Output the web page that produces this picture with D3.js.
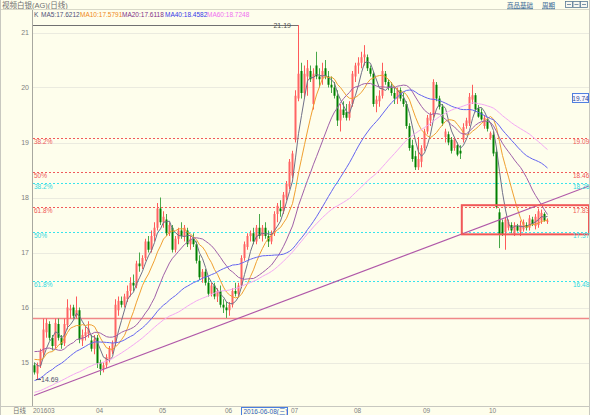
<!DOCTYPE html>
<html><head><meta charset="utf-8">
<script src="https://cdn.jsdelivr.net/npm/d3@7/dist/d3.min.js"></script>
<style>
html,body{margin:0;padding:0;background:#fefeec;}
svg{display:block;}
text{font-family:"Liberation Sans",Arial,"Noto Sans CJK SC",sans-serif;}
</style></head>
<body>
<script>
// ---------- DATA ----------
const title = "视频白银(AG)(日线)";
const monthLabels = ["201603","04","05","06","07","08","09","10"];
const monthStartIdx = [0,21,42,64,86,107,130,152];
const yTicks = [15,16,17,18,19,20,21];

// closes before the displayed window (Dec 2015 - Feb 2016), used only for moving averages
const priorCloses = [14.15,14.05,14.25,14.10,13.85,13.95,13.80,14.10,13.70,14.05,14.25,14.25,14.30,14.35,14.15,13.85,13.75,13.85,
 13.95,13.95,14.15,14.15,13.95,13.90,13.90,14.05,13.85,14.10,14.05,14.00,14.15,14.10,14.15,14.35,14.35,14.30,14.30,14.25,
 14.30,14.55,14.90,15.05,14.95,15.35,15.40,15.65,15.80,15.80,15.35,15.15,15.00,15.25,15.30,14.90,15.15,15.20,15.25,14.75,14.95];

const opens = [14.95,14.80,14.95,15.18,15.55,15.70,15.45,15.30,15.70,15.45,15.35,15.68,15.95,16.00,15.85,15.95,15.40,15.48,15.52,15.40,15.25,
15.45,15.00,14.88,14.95,15.05,15.20,15.35,15.95,16.12,16.05,16.15,16.30,16.45,16.40,16.80,16.75,16.90,17.20,17.05,17.30,17.45,
17.80,17.55,17.60,17.35,17.45,17.05,17.25,17.40,17.30,17.40,17.15,17.25,17.15,16.85,16.55,16.65,16.45,16.25,16.40,16.20,16.30,16.05,
16.00,15.95,16.05,16.30,16.25,16.40,16.90,17.10,17.30,17.35,17.20,17.45,17.30,17.45,17.30,17.20,17.35,17.70,17.80,17.75,18.00,18.20,
18.40,19.05,19.80,20.30,19.90,20.20,20.30,19.70,20.40,20.20,20.15,20.35,20.20,20.05,20.00,19.85,19.40,19.60,19.55,19.45,19.70,20.20,
20.40,20.45,20.55,20.55,20.35,20.25,19.70,19.75,19.85,20.25,20.10,20.00,19.90,19.80,19.95,19.80,19.70,19.30,18.95,18.75,18.55,18.65,
18.90,19.20,19.40,19.50,20.05,19.80,19.65,19.10,19.15,19.05,18.90,18.95,18.85,19.05,19.30,19.35,19.78,19.86,19.62,19.55,19.30,19.40,
19.08,19.14,18.83,17.73,17.55,17.37,17.45,17.50,17.34,17.48,17.38,17.42,17.50,17.45,17.60,17.48,17.50,17.58,17.70,17.56];
const highs = [15.00,15.00,15.25,15.80,15.80,15.75,15.50,15.80,15.80,15.50,15.80,16.15,16.05,16.05,16.20,16.00,15.60,15.65,15.75,15.50,15.50,
15.50,15.05,15.00,15.15,15.30,15.40,16.15,16.20,16.20,16.25,16.40,16.55,16.60,16.85,17.00,16.95,17.25,17.30,17.40,17.55,17.90,
18.00,17.75,17.70,17.55,17.50,17.30,17.45,17.55,17.50,17.45,17.30,17.35,17.20,16.95,16.70,16.70,16.55,16.45,16.45,16.35,16.40,16.15,
16.10,16.10,16.35,16.45,16.45,16.95,17.20,17.35,17.40,17.45,17.50,17.70,17.50,17.55,17.40,17.40,17.75,17.90,17.95,18.10,18.30,18.70,
18.85,19.95,21.19,20.45,20.40,20.50,20.40,20.35,20.65,20.35,20.45,20.50,20.30,20.20,20.10,19.95,19.70,19.75,19.70,19.75,20.30,20.45,
20.55,20.65,20.77,20.60,20.40,20.30,19.85,19.95,20.45,20.30,20.15,20.10,20.00,20.00,20.00,19.90,19.75,19.35,19.05,18.85,19.10,18.95,
19.25,19.50,19.55,20.15,20.10,19.85,19.70,19.25,19.20,19.10,19.10,19.00,18.95,19.35,19.45,19.90,20.05,19.90,19.68,19.62,19.50,19.45,
19.20,19.20,18.90,17.80,17.60,17.65,17.60,17.55,17.55,17.52,17.58,17.60,17.55,17.68,17.65,17.70,17.80,17.78,17.73,17.62];
const lows = [14.78,14.69,14.90,15.10,15.45,15.40,15.22,15.25,15.40,15.25,15.30,15.60,15.80,15.80,15.80,15.35,15.30,15.40,15.45,15.20,15.15,
14.90,14.77,14.82,14.90,15.00,15.15,15.30,15.85,16.00,16.00,16.10,16.20,16.30,16.35,16.65,16.70,16.85,17.00,17.00,17.20,17.40,
17.50,17.45,17.30,17.30,17.00,17.00,17.15,17.25,17.20,17.10,17.05,17.10,16.80,16.50,16.45,16.40,16.20,16.20,16.15,16.10,16.00,15.90,
15.81,15.85,16.00,16.20,16.20,16.35,16.85,17.05,17.20,17.15,17.15,17.25,17.20,17.25,17.10,17.15,17.30,17.55,17.65,17.70,17.95,18.15,
18.35,19.00,19.75,19.80,19.80,19.85,20.10,19.60,20.15,20.00,20.05,20.15,20.00,19.90,19.80,19.30,19.20,19.45,19.40,19.40,19.65,20.10,
20.25,20.35,20.40,20.30,20.20,19.65,19.55,19.65,19.80,20.05,19.95,19.85,19.70,19.70,19.75,19.65,19.25,18.85,18.65,18.50,18.50,18.55,
18.85,19.15,19.30,19.45,19.75,19.60,19.30,19.00,18.95,18.80,18.85,18.75,18.70,19.00,19.25,19.30,19.70,19.55,19.45,19.40,19.25,19.20,
19.05,18.75,17.80,17.08,17.30,17.05,17.40,17.35,17.30,17.38,17.30,17.38,17.40,17.40,17.48,17.42,17.45,17.52,17.56,17.52];
const closes = [14.82,14.95,15.20,15.60,15.72,15.45,15.30,15.72,15.45,15.32,15.70,16.00,15.98,15.85,15.95,15.42,15.50,15.55,15.62,15.25,15.42,
14.98,14.88,14.95,15.10,15.25,15.35,16.05,16.12,16.05,16.20,16.30,16.45,16.40,16.80,16.75,16.90,17.20,17.05,17.30,17.45,17.80,
17.55,17.65,17.35,17.50,17.05,17.25,17.40,17.30,17.45,17.15,17.25,17.15,16.85,16.55,16.65,16.45,16.25,16.40,16.20,16.30,16.05,16.00,
15.95,16.05,16.30,16.25,16.40,16.90,17.15,17.30,17.35,17.20,17.45,17.30,17.45,17.30,17.20,17.35,17.70,17.85,17.75,18.05,18.25,18.65,
18.80,19.85,20.25,19.90,20.25,20.35,20.15,20.25,20.20,20.15,20.30,20.20,20.05,20.00,19.85,19.40,19.60,19.50,19.45,19.70,20.25,20.40,
20.45,20.55,20.60,20.35,20.25,19.70,19.78,19.85,20.30,20.10,20.00,19.90,19.80,19.95,19.80,19.70,19.30,18.90,18.70,18.55,18.70,18.90,
19.20,19.45,19.50,20.10,19.80,19.65,19.35,19.20,19.00,18.85,19.05,18.78,18.80,19.28,19.40,19.83,19.86,19.60,19.47,19.42,19.45,19.25,
19.17,18.80,17.83,17.32,17.32,17.60,17.55,17.40,17.50,17.40,17.50,17.55,17.45,17.62,17.52,17.65,17.75,17.72,17.58,17.58];

const maPeriods = [5,10,20,40,60];
const maColors = ["#707088","#f0a030","#a060a8","#6464f0","#f4a8f4"];
const maTextColors = ["#505078","#f08818","#803088","#3838e8","#f070f0"];
const maLabelValues = ["17.6212","17.5791","17.6118","18.4582","18.7248"];

// fibonacci / annotation levels
const fibRed = [19.09,18.46,17.83];
const fibRedPct = ["38.2%","50%","61.8%"];
const fibCyan = [18.26,17.37,16.48];
const fibCyanPct = ["38.2%","50%","61.8%"];
const supportLevel = 15.80;
const trendIdx = [0,185];
const trendPrice = [14.40,18.21];
const boxIdx = [142.6,185];
const boxPrice = [17.86,17.33];
const maxPrice = 21.19, maxIdx = 88, minPrice = 14.69, minIdx = 1;
const crossPrice = "19.74";
const crossDate = "2016-06-08(三)", crossIdx = 69;

// ---------- CHART ----------
const W=590,H=415, L=32, R=589, T=25, B=406;
const svg = d3.select("body").append("svg").attr("width",W).attr("height",H);
svg.append("rect").attr("width",W).attr("height",H).attr("fill","#fefeec");

const x = d3.scaleLinear().domain([0,171]).range([34,547]);
const y = d3.scaleLinear().domain([15,21]).range([362.5,32.5]);

// header
svg.append("text").attr("x",2).attr("y",7.5).attr("font-size",7.5).attr("fill","#707070")
  .attr("font-family","'Noto Sans CJK SC',sans-serif").text(title);
svg.append("line").attr("x1",0).attr("x2",W).attr("y1",9.5).attr("y2",9.5).attr("stroke","#d8d8c8");
[["商品基础",507],["周期",542]].forEach(([t,xx])=>{
  svg.append("text").attr("x",xx).attr("y",7.5).attr("font-size",6.5).attr("fill","#3a6a96")
    .attr("font-family","'Noto Sans CJK SC',sans-serif").attr("text-decoration","underline").text(t);
});
[565,572.5,580].forEach((xx,i)=>{
  svg.append("rect").attr("x",xx+0.5).attr("y",1.5).attr("width",7).attr("height",6)
    .attr("fill","#f8f8f0").attr("stroke","#5a7a96").attr("stroke-width",0.8);
  svg.append("line").attr("x1",xx+2).attr("x2",xx+6).attr("y1",4.5).attr("y2",4.5).attr("stroke","#5a7a96").attr("stroke-width",0.8);
});
svg.append("text").attr("x",34).attr("y",17).attr("font-size",6.5).attr("fill","#505070").text("K");
const legX=[41,80,122,165,207];
maPeriods.forEach((p,i)=>{
  svg.append("text").attr("x",legX[i]).attr("y",17).attr("font-size",6.5).attr("fill",maTextColors[i])
    .text("MA"+p+":"+maLabelValues[i]);
});

// frame lines
svg.append("line").attr("x1",L+0.5).attr("x2",L+0.5).attr("y1",10).attr("y2",B).attr("stroke","#a8a8a0");
svg.append("line").attr("x1",0).attr("x2",W).attr("y1",B+0.5).attr("y2",B+0.5).attr("stroke","#c8c8c0");
svg.append("line").attr("x1",0.5).attr("x2",0.5).attr("y1",0).attr("y2",H).attr("stroke","#c8c8c0");
svg.append("line").attr("x1",R+0.5).attr("x2",R+0.5).attr("y1",0).attr("y2",H).attr("stroke","#c8c8c0");

// y grid + labels
yTicks.forEach(v=>{
  svg.append("line").attr("x1",L+1).attr("x2",R).attr("y1",Math.round(y(v))+0.5).attr("y2",Math.round(y(v))+0.5)
    .attr("stroke","#ebebdf").attr("stroke-width",1);
  svg.append("text").attr("x",29).attr("y",y(v)+2.5).attr("text-anchor","end").attr("font-size",7).attr("fill","#808080").text(v);
});

// clip
svg.append("clipPath").attr("id","clip").append("rect").attr("x",L+1).attr("y",T).attr("width",R-L-1).attr("height",B-T);
const g = svg.append("g").attr("clip-path","url(#clip)");

// fib lines
function fibLine(v,color){
  g.append("line").attr("x1",L+1).attr("x2",R).attr("y1",Math.round(y(v))+0.5).attr("y2",Math.round(y(v))+0.5)
   .attr("stroke",color).attr("stroke-dasharray","2,2").attr("stroke-width",1);
}
fibRed.forEach(v=>fibLine(v,"#f25a5a"));
fibCyan.forEach(v=>fibLine(v,"#38e4ec"));
// support
g.append("line").attr("x1",L+1).attr("x2",R).attr("y1",y(supportLevel)).attr("y2",y(supportLevel))
  .attr("stroke","#f08888").attr("stroke-width",1.5);

// max line
g.append("line").attr("x1",L+1).attr("x2",x(maxIdx)).attr("y1",T+0.5).attr("y2",T+0.5).attr("stroke","#707070");

// candles
const idx = d3.range(closes.length);
idx.forEach(i=>{
  const up = closes[i]>=opens[i];
  const cx = Math.round(x(i));
  const wick = up? "#ff5a5a" : "#48a848";
  g.append("line").attr("x1",cx+0.5).attr("x2",cx+0.5).attr("y1",y(highs[i])).attr("y2",y(lows[i]))
    .attr("stroke",wick).attr("stroke-width",1);
  const top = y(Math.max(opens[i],closes[i])), bot = y(Math.min(opens[i],closes[i]));
  g.append("rect").attr("x",cx-0.5).attr("y",top).attr("width",2).attr("height",Math.max(1,bot-top))
    .attr("fill", up? "#ff6464" : "#008000");
});

// moving averages
const all = priorCloses.concat(closes);
const off = priorCloses.length;
maPeriods.forEach((p,k)=>{
  const vals = idx.map(i=>d3.mean(all.slice(off+i-p+1, off+i+1)));
  g.append("path").datum(vals).attr("fill","none").attr("stroke",maColors[k]).attr("stroke-width",1)
    .attr("d", d3.line().x((d,i)=>x(i)+0.5).y(d=>y(d)));
});

// trendline
g.append("line").attr("x1",x(trendIdx[0])).attr("y1",y(trendPrice[0])).attr("x2",x(trendIdx[1])).attr("y2",y(trendPrice[1]))
  .attr("stroke","#b058a8").attr("stroke-width",1.2);

// box
g.append("rect").attr("x",x(boxIdx[0])).attr("y",y(boxPrice[0])).attr("width",x(boxIdx[1])-x(boxIdx[0]))
  .attr("height",y(boxPrice[1])-y(boxPrice[0])).attr("fill","none").attr("stroke","#f05858").attr("stroke-width",2);

// fib labels
function fibLabels(vals,pcts,color){
  vals.forEach((v,i)=>{
    svg.append("text").attr("x",34).attr("y",y(v)+6).attr("font-size",6.5).attr("fill",color).text(pcts[i]);
    svg.append("text").attr("x",573).attr("y",y(v)+6).attr("font-size",6.5).attr("fill",color).text(v.toFixed(2));
  });
}
fibLabels(fibRed,fibRedPct,"#f05858");
fibLabels(fibCyan,fibCyanPct,"#30d8e0");

// max / min labels
svg.append("text").attr("x",291).attr("y",T+2.5).attr("text-anchor","end").attr("font-size",7).attr("fill","#505050").text(maxPrice.toFixed(2));
svg.append("line").attr("x1",x(minIdx)-1).attr("x2",x(minIdx)+4).attr("y1",y(minPrice)).attr("y2",y(minPrice)).attr("stroke","#505070");
svg.append("text").attr("x",x(minIdx)+4).attr("y",y(minPrice)+2.5).attr("font-size",7).attr("fill","#505070").text(minPrice.toFixed(2));

// cross price box
svg.append("rect").attr("x",572.5).attr("y",93.5).attr("width",16).attr("height",9).attr("fill","#f8f8ff").attr("stroke","#5080e0");
svg.append("text").attr("x",580.5).attr("y",100.5).attr("text-anchor","middle").attr("font-size",6.5).attr("fill","#304890").text(crossPrice);

// x axis labels
svg.append("text").attr("x",26).attr("y",413).attr("text-anchor","end").attr("font-size",6.5).attr("fill","#707070")
  .attr("font-family","'Noto Sans CJK SC',sans-serif").text("日线");
monthLabels.forEach((t,i)=>{
  svg.append("text").attr("x",x(monthStartIdx[i])-1).attr("y",413).attr("font-size",6.5).attr("fill","#808080").text(t);
});
svg.append("rect").attr("x",x(crossIdx)+0.5).attr("y",407.5).attr("width",46).attr("height",8).attr("fill","#fefeec").attr("stroke","#4a7ee0");
svg.append("text").attr("x",x(crossIdx)+2.5).attr("y",414).attr("font-size",6.5).attr("fill","#2f5fc0")
  .attr("font-family","'Liberation Sans','Noto Sans CJK SC',sans-serif").text(crossDate);
</script>
</body></html>
